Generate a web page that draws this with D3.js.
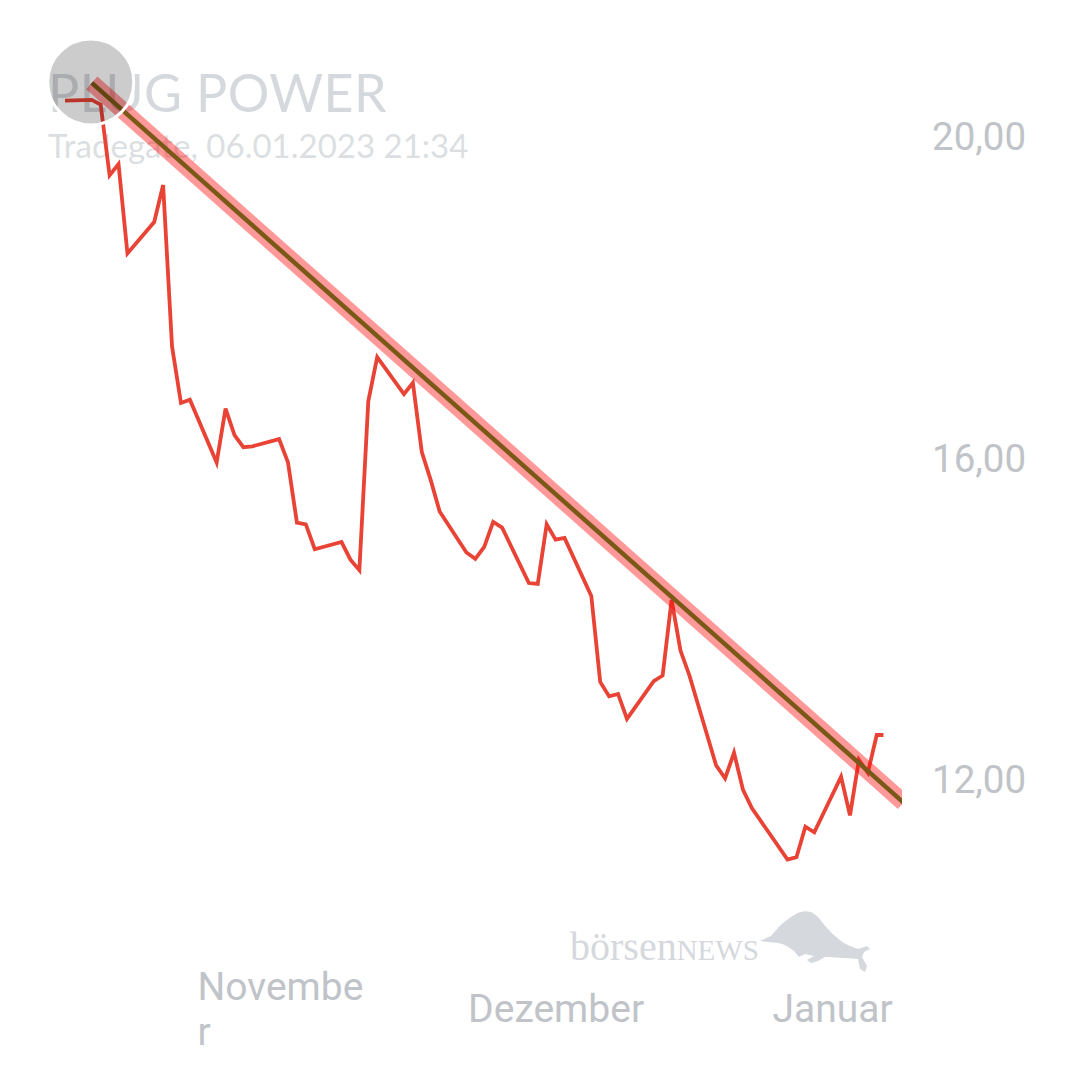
<!DOCTYPE html>
<html>
<head>
<meta charset="utf-8">
<script src="https://cdn.jsdelivr.net/npm/d3@7"></script>
<style>
  html, body { margin: 0; padding: 0; background: #ffffff; }
  svg { display: block; }
</style>
</head>
<body>
<svg id="chart" width="1080" height="1080"></svg>
<script>
// ---------- DATA ----------
const title = "PLUG POWER";
const subtitle = "Tradegate, 06.01.2023 21:34";
const dates = [
  "2022-10-07","2022-10-10","2022-10-11","2022-10-12","2022-10-13","2022-10-14",
  "2022-10-17","2022-10-18","2022-10-19","2022-10-20","2022-10-21",
  "2022-10-24","2022-10-25","2022-10-26","2022-10-27","2022-10-28",
  "2022-10-31","2022-11-01","2022-11-02","2022-11-03","2022-11-04",
  "2022-11-07","2022-11-08","2022-11-09","2022-11-10","2022-11-11",
  "2022-11-14","2022-11-15","2022-11-16","2022-11-17","2022-11-18",
  "2022-11-21","2022-11-22","2022-11-23","2022-11-24","2022-11-25",
  "2022-11-28","2022-11-29","2022-11-30","2022-12-01","2022-12-02",
  "2022-12-05","2022-12-06","2022-12-07","2022-12-08","2022-12-09",
  "2022-12-12","2022-12-13","2022-12-14","2022-12-15","2022-12-16",
  "2022-12-19","2022-12-20","2022-12-21","2022-12-22","2022-12-23",
  "2022-12-27","2022-12-28","2022-12-29","2022-12-30",
  "2023-01-02","2023-01-03","2023-01-04","2023-01-05","2023-01-06","2023-01-06T18:00"
];
const prices = [
  20.44, 20.45, 20.39, 19.51, 19.65, 18.54,
  18.93, 19.39, 17.38, 16.68, 16.72,
  15.94, 16.61, 16.28, 16.13, 16.14,
  16.23, 15.94, 15.19, 15.17, 14.86,
  14.95, 14.73, 14.60, 16.70, 17.25,
  16.79, 16.93, 16.07, 15.72, 15.33,
  14.82, 14.74, 14.89, 15.20, 15.13,
  14.44, 14.43, 15.17, 14.98, 15.00,
  14.28, 13.21, 13.03, 13.06, 12.75,
  13.22, 13.29, 14.23, 13.60, 13.29,
  12.17, 12.01, 12.33, 11.87, 11.64,
  11.00, 11.03, 11.41, 11.34,
  12.03, 11.55, 12.24, 12.08, 12.55, 12.55
];
const trendDates = ["2022-10-10", "2023-01-09"];
const trendValues = [20.66, 11.71];
const xDomainDates = ["2022-10-07", "2023-01-09"];
const yTicks = [12, 16, 20];
const yDomain = [12, 20];
const monthTicks = ["2022-11-01", "2022-12-01", "2023-01-01"];
const monthNames = ["November", "Dezember", "Januar"];

// ---------- SETUP ----------
const parse = s => s.length > 10 ? d3.utcParse("%Y-%m-%dT%H:%M")(s) : d3.utcParse("%Y-%m-%d")(s);
const series = dates.map((d, i) => ({ date: parse(d), value: prices[i] }));
const trend = trendDates.map((d, i) => ({ date: parse(d), value: trendValues[i] }));

const svg = d3.select("#chart");
const plotRight = 902;

const x = d3.scaleUtc()
  .domain(xDomainDates.map(parse))
  .range([65, 903.5]);
const y = d3.scaleLinear()
  .domain(yDomain)
  .range([779.2, 136]);

const de = d3.formatLocale({ decimal: ",", thousands: ".", grouping: [3], currency: ["", " €"] });
const fmt = de.format(".2f");

const axisColor = "#c0c3c8";

// ---------- TITLE ----------
svg.append("text")
  .attr("x", 48).attr("y", 112)
  .attr("font-family", "Lato, 'Noto Sans', sans-serif")
  .attr("font-size", 52)
  .attr("letter-spacing", 0.4)
  .attr("fill", "#d5d8dc")
  .text(title);
svg.append("text")
  .attr("x", 48).attr("y", 158)
  .attr("font-family", "Lato, 'Noto Sans', sans-serif")
  .attr("font-size", 33)
  .attr("fill", "#dcdfe2")
  .text(subtitle);

// ---------- WATERMARK ----------
const wm = svg.append("g").attr("fill", "#d5d8dc");
const wmText = wm.append("text")
  .attr("x", 570).attr("y", 960)
  .attr("font-family", "'Liberation Serif', 'DejaVu Serif', serif")
  .attr("font-size", 40);
wmText.append("tspan").text("börsen");
wmText.append("tspan").attr("font-size", 29).text("NEWS");
wm.append("path")
  .attr("d", "M760,941 L771,936 C776,930 784,920 796,914 C803,910 811,910 818,917 C825,926 836,940 850,946 L858,949 L867,946 L870,949 L864,952 L862,957 L867,966 L865,972 L860,969 L858,959 L846,958 C838,958 830,957 825,957 L818,961 L811,963 L807,960 L814,956 L805,954 L799,957 L794,951 C789,947 784,944 778,943 L768,942 Z");

// ---------- Y AXIS ----------
const yAxisG = svg.append("g")
  .attr("transform", "translate(932,0)")
  .call(d3.axisRight(y).tickValues(yTicks).tickSize(0).tickPadding(0).tickFormat(fmt));
yAxisG.select(".domain").remove();
yAxisG.selectAll("text")
  .attr("font-family", "Roboto, sans-serif")
  .attr("font-size", 38.5)
  .attr("fill", axisColor)
  .attr("text-anchor", "start")
  .attr("dy", "0.35em");

// ---------- X AXIS ----------
const xAxisG = svg.append("g")
  .call(d3.axisBottom(x)
    .tickValues(monthTicks.map(parse))
    .tickSize(0)
    .tickFormat((d, i) => monthNames[i]));
xAxisG.select(".domain").remove();
const maxLabelW = 178, lineH = 45, baseY = 1022;
xAxisG.selectAll(".tick text").each(function () {
  const t = d3.select(this);
  const label = t.text();
  t.text(null).attr("dy", null)
    .attr("font-family", "Roboto, sans-serif")
    .attr("font-size", 39)
    .attr("fill", axisColor);
  const probe = t.append("tspan").text(label);
  let lines = [label];
  if (this.getComputedTextLength() > maxLabelW) {
    lines = [];
    let cur = "";
    for (const ch of label) {
      probe.text(cur + ch);
      if (this.getComputedTextLength() > maxLabelW && cur.length) {
        lines.push(cur);
        cur = ch;
      } else cur += ch;
    }
    lines.push(cur);
  }
  probe.remove();
  const multi = lines.length > 1;
  t.attr("text-anchor", multi ? "start" : "middle").attr("y", null);
  const first = baseY - (lines.length - 1) * lineH / 2;
  lines.forEach((ln, i) => {
    t.append("tspan")
      .attr("x", multi ? -maxLabelW / 2 - 2 : 0)
      .attr("y", first + i * lineH)
      .text(ln);
  });
});

// ---------- LINES ----------
svg.append("clipPath").attr("id", "plotClip")
  .append("rect").attr("x", 0).attr("y", 0).attr("width", plotRight).attr("height", 1080);
const plot = svg.append("g").attr("clip-path", "url(#plotClip)");

const line = d3.line().x(d => x(d.date)).y(d => y(d.value));

plot.append("path")
  .datum(series)
  .attr("d", line)
  .attr("fill", "none")
  .attr("stroke", "#e84335")
  .attr("stroke-width", 3.8)
  .attr("stroke-linejoin", "miter");

plot.append("path")
  .datum(trend)
  .attr("d", line)
  .attr("fill", "none")
  .attr("stroke", "rgba(255,0,0,0.4)")
  .attr("stroke-width", 17)
  .attr("stroke-linecap", "butt");

plot.append("path")
  .datum(trend)
  .attr("d", line)
  .attr("fill", "none")
  .attr("stroke", "#7a5817")
  .attr("stroke-width", 4.5)
  .attr("stroke-linecap", "butt");

// ---------- ANCHOR MARKER ----------
svg.append("circle")
  .attr("cx", x(trend[0].date) - 1)
  .attr("cy", y(trend[0].value) - 1)
  .attr("r", 43)
  .attr("fill", "rgba(0,0,0,0.2)")
  .attr("stroke", "#ffffff")
  .attr("stroke-width", 3);
</script>
</body>
</html>
